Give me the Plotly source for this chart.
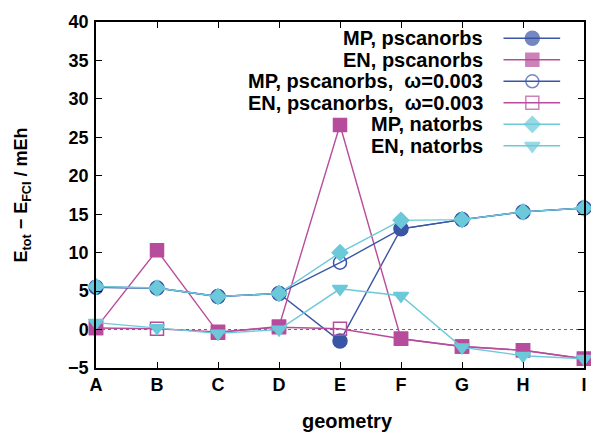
import plotly.graph_objects as go

# geometries along the x axis
geometries = ["A", "B", "C", "D", "E", "F", "G", "H", "I"]

# E_tot - E_FCI in mEh
mp_pscanorbs = [5.5, 5.4, 4.3, 4.7, -1.5, 13.1, 14.3, 15.3, 15.8]
en_pscanorbs = [0.2, 10.3, -0.4, 0.4, 26.6, -1.2, -2.2, -2.7, -3.8]
mp_pscanorbs_w = [5.5, 5.4, 4.3, 4.7, 8.7, 13.1, 14.3, 15.3, 15.8]
en_pscanorbs_w = [0.2, 0.1, -0.3, 0.3, 0.1, -1.2, -2.2, -2.7, -3.8]
mp_natorbs = [5.6, 5.4, 4.3, 4.7, 10.0, 14.2, 14.3, 15.3, 15.8]
en_natorbs = [0.9, 0.2, -0.5, 0.0, 5.3, 4.4, -2.3, -3.4, -3.8]

y_ticks = [-5, 0, 5, 10, 15, 20, 25, 30, 35, 40]

BLUE = "#3a55a6"
MAGENTA = "#b84c9c"
CYAN = "#6bc9d9"
FONT = "Liberation Sans, Arial, sans-serif"

series = [
    ("MP, pscanorbs", mp_pscanorbs, BLUE, "circle", 14),
    ("EN, pscanorbs", en_pscanorbs, MAGENTA, "square", 13),
    ("MP, pscanorbs,  \u03c9=0.003", mp_pscanorbs_w, BLUE, "circle-open", 13),
    ("EN, pscanorbs,  \u03c9=0.003", en_pscanorbs_w, MAGENTA, "square-open", 13),
    ("MP, natorbs", mp_natorbs, CYAN, "diamond", 12),
    ("EN, natorbs", en_natorbs, CYAN, "triangle-down", 13),
]

x_idx = list(range(len(geometries)))

fig = go.Figure()

for name, vals, color, sym, size in series:
    fig.add_trace(go.Scatter(
        x=x_idx, y=vals, mode="lines+markers", name=name,
        line=dict(color=color, width=1.4),
        marker=dict(symbol=sym, size=size, color=color,
                    line=dict(color=color, width=1.5)),
        cliponaxis=False, showlegend=False,
    ))

# key drawn on an overlay axis measured in pixels, text left of the sample
key_top = 38.3
key_step = 21.5
key_x0, key_x1, key_mark, key_text = 506, 563, 535, 487
for i, (name, vals, color, sym, size) in enumerate(series):
    yk = key_top + i * key_step
    fig.add_trace(go.Scatter(
        x=[key_x0, key_mark, key_x1], y=[yk, yk, yk],
        mode="lines+markers", xaxis="x2", yaxis="y2",
        line=dict(color=color, width=1.4),
        marker=dict(symbol=sym, size=[0, size, 0], color=color,
                    line=dict(color=color, width=1.5)),
        showlegend=False, hoverinfo="skip",
    ))
    fig.add_annotation(
        x=key_text, y=yk, xref="x2", yref="y2", text=name,
        showarrow=False, xanchor="right", yanchor="middle",
        font=dict(size=20, color="black", family=FONT, weight=700),
    )

# x axis title, set a little right of centre below the tick labels
fig.add_annotation(
    x=0.515, y=-0.153, xref="paper", yref="paper", text="geometry",
    showarrow=False, xanchor="center", yanchor="middle",
    font=dict(size=20, color="black", family=FONT, weight=700),
)

# zero reference line
fig.add_shape(type="line", xref="paper", yref="y", x0=0, x1=1, y0=0, y1=0,
              line=dict(color="#666666", width=1, dash="dot"), layer="below")

axis_common = dict(
    showline=True, linecolor="black", linewidth=1.5, mirror="ticks",
    ticks="inside", ticklen=6, tickwidth=1.2, tickcolor="black",
    showgrid=False, zeroline=False,
    tickfont=dict(size=18, color="black", family=FONT, weight=700),
)

fig.update_layout(
    width=591, height=433,
    margin=dict(l=96, r=4, t=22, b=65),
    paper_bgcolor="white", plot_bgcolor="white",
    font=dict(family=FONT, color="black", weight=700),
    xaxis=dict(
        range=[0, len(geometries) - 1], tickvals=x_idx, ticktext=geometries,
        **axis_common,
    ),
    yaxis=dict(
        range=[-5, 40], tickvals=y_ticks, ticklabelstandoff=2,
        title=dict(text="E<sub>tot</sub> \u2212 E<sub>FCI</sub> / mEh", standoff=36,
                   font=dict(size=18, family=FONT, weight=700)),
        **axis_common,
    ),
    xaxis2=dict(range=[96, 587], overlaying="x", visible=False, fixedrange=True),
    yaxis2=dict(range=[368, 22], overlaying="y", visible=False, fixedrange=True),
)

fig.write_html("out.html")
